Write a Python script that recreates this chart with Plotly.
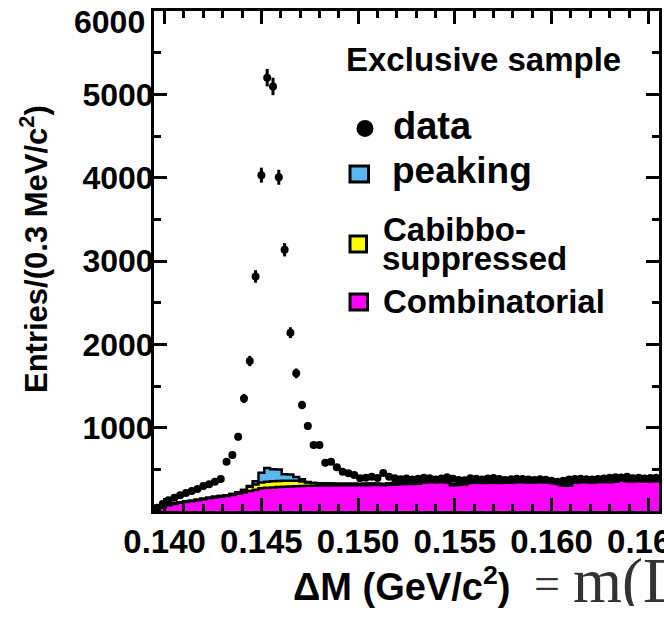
import numpy as np
import plotly.graph_objects as go

# ---- binning: 0.3 MeV/c^2 bins in Delta M (GeV/c^2) ----
bin_start = 0.13945
bin_width = 0.0003
n_bins = 87

# ---- measured entries per bin ----
data_counts = [
    40, 85, 130, 160, 190, 215, 240, 264, 300, 320,
    352, 384, 592, 672, 892, 1350, 1800, 2815, 4030, 5200,
    5095, 4005, 3135, 2140, 1652, 1272, 1020, 792, 792, 580,
    592, 524, 472, 452, 432, 392, 400, 412, 395, 455,
    412, 392, 380, 390, 378, 386, 398, 392, 378, 390,
    405, 388, 372, 370, 392, 386, 378, 390, 396, 384,
    372, 380, 388, 384, 378, 372, 380, 375, 362, 352,
    362, 378, 384, 388, 380, 378, 384, 390, 398, 405,
    402, 410, 394, 398, 390, 396, 398,
]
data_errors = [
    10, 14, 17, 19, 20, 22, 23, 24, 25, 26,
    27, 28, 35, 38, 45, 55, 62, 75, 90, 105,
    105, 90, 80, 65, 58, 50, 45, 40, 40, 35,
    35, 33, 31, 30, 30, 28, 28, 28, 28, 28,
    28, 28, 28, 28, 28, 28, 28, 28, 28, 28,
    28, 28, 28, 28, 28, 28, 28, 28, 28, 28,
    28, 28, 28, 28, 28, 28, 28, 28, 28, 28,
    28, 28, 28, 28, 28, 28, 28, 28, 28, 28,
    28, 28, 28, 28, 28, 28, 28,
]

# ---- background components (stacked) ----
combinatorial = [
    15, 45, 70, 85, 98, 108, 118, 128, 140, 152,
    163, 172, 180, 192, 206, 222, 240, 256, 272, 278,
    283, 288, 292, 295, 298, 300, 302, 304, 305, 306,
    307, 307, 308, 308, 309, 308, 310, 311, 312, 310,
    312, 315, 322, 325, 324, 326, 342, 345, 344, 346,
    342, 305, 312, 318, 336, 338, 335, 337, 339, 336,
    338, 340, 344, 345, 343, 346, 344, 342, 345, 340,
    305, 303, 340, 344, 346, 343, 345, 347, 344, 350,
    368, 356, 354, 357, 355, 353, 356,
]
cabibbo_suppressed = [
    3, 4, 5, 5, 6, 6, 6, 7, 7, 8,
    8, 9, 10, 12, 18, 30, 50, 62, 70, 74,
    74, 72, 70, 68, 64, 55, 40, 32, 28, 25,
    22, 20, 18, 18, 17, 16, 18, 20, 16, 15,
    18, 20, 16, 15, 14, 16, 15, 14, 16, 18,
    15, 14, 16, 15, 14, 16, 15, 14, 15, 16,
    14, 15, 16, 14, 15, 16, 15, 14, 15, 16,
    14, 15, 16, 15, 14, 15, 16, 15, 14, 15,
    16, 15, 14, 15, 16, 15, 14,
]
peaking = [
    0, 0, 0, 0, 0, 0, 0, 0, 0, 0,
    0, 0, 0, 0, 0, 0, 10, 40, 116, 164,
    145, 137, 79, 76, 45, 25, 5, 0, 0, 0,
    0, 0, 0, 0, 0, 0, 0, 0, 0, 0,
    0, 0, 0, 0, 0, 0, 0, 0, 0, 0,
    0, 0, 0, 0, 0, 0, 0, 0, 0, 0,
    0, 0, 0, 0, 0, 0, 0, 0, 0, 0,
    0, 0, 0, 0, 0, 0, 0, 0, 0, 0,
    0, 0, 0, 0, 0, 0, 0,
]

x_ticks = [0.140, 0.145, 0.150, 0.155, 0.160, 0.165]
x_tick_text = ["0.140", "0.145", "0.150", "0.155", "0.160", "0.165"]
y_ticks = [1000, 2000, 3000, 4000, 5000, 6000]
y_tick_text = ["1000", "2000", "3000", "4000", "5000", "6000"]

edges = bin_start + bin_width * np.arange(n_bins + 1)
centers = edges[:-1] + bin_width / 2

layer1 = np.array(combinatorial, dtype=float)
layer2 = layer1 + np.array(cabibbo_suppressed, dtype=float)
layer3 = layer2 + np.array(peaking, dtype=float)


def step_y(vals):
    v = list(vals)
    return v + [v[-1]]


SANS = "Liberation Sans, Arial, Helvetica, sans-serif"
SERIF = "Liberation Serif, Times New Roman, serif"
MAGENTA = "#ff00ff"
YELLOW = "#ffff00"
BLUE = "#58b7ee"

fig = go.Figure()
fig.add_trace(go.Scatter(
    x=edges, y=step_y(layer1), mode="lines", line_shape="hv",
    line=dict(color="black", width=2.5), fill="tozeroy", fillcolor=MAGENTA,
    name="Combinatorial", hoverinfo="skip"))
fig.add_trace(go.Scatter(
    x=edges, y=step_y(layer2), mode="lines", line_shape="hv",
    line=dict(color="black", width=2.5), fill="tonexty", fillcolor=YELLOW,
    name="Cabibbo-suppressed", hoverinfo="skip"))
fig.add_trace(go.Scatter(
    x=edges, y=step_y(layer3), mode="lines", line_shape="hv",
    line=dict(color="black", width=2.5), fill="tonexty", fillcolor=BLUE,
    name="peaking", hoverinfo="skip"))
fig.add_trace(go.Scatter(
    x=centers, y=data_counts, mode="markers", name="data",
    marker=dict(size=8, color="black"),
    error_y=dict(type="data", array=data_errors, thickness=3, width=0,
                 color="black")))

# plot-area geometry (pixels)
L, T, W, H = 154, 11, 505, 500


def px(xp):
    return (xp - L) / W


def py(yp):
    return (T + H - yp) / H


shapes = [
    dict(type="circle", xref="paper", yref="paper",
         x0=px(356.5), x1=px(373.5), y0=py(137), y1=py(120),
         fillcolor="black", line=dict(color="black", width=0)),
    dict(type="rect", xref="paper", yref="paper",
         x0=px(350), x1=px(368.5), y0=py(182), y1=py(166),
         fillcolor=BLUE, line=dict(color="black", width=3)),
    dict(type="rect", xref="paper", yref="paper",
         x0=px(350), x1=px(366.5), y0=py(252), y1=py(236),
         fillcolor=YELLOW, line=dict(color="black", width=3)),
    dict(type="rect", xref="paper", yref="paper",
         x0=px(350), x1=px(367.5), y0=py(310), y1=py(294),
         fillcolor=MAGENTA, line=dict(color="black", width=3)),
]


def label(text, xp, yp, size, **kw):
    font = dict(family=kw.pop("family", SANS), size=size,
                color=kw.pop("color", "black"), weight=kw.pop("weight", "bold"))
    return dict(text=text, xref="paper", yref="paper", x=px(xp), y=py(yp),
                xanchor=kw.pop("xanchor", "left"), yanchor="middle",
                showarrow=False, font=font, **kw)


annotations = [
    # top y-axis label sits just inside the frame
    label(y_tick_text[-1], 147, 22, 32, xanchor="right"),
    label("Exclusive sample", 344, 60, 33),
    label("data", 391, 126, 38),
    label("peaking", 390, 171, 37),
    label("Cabibbo-", 381, 229, 33),
    label("suppressed", 380, 258, 33),
    label("Combinatorial", 381, 301, 33),
    label("Entries/(0.3 MeV/c<sup>2</sup>)", 34, 249, 31, textangle=-90,
          xanchor="center"),
    label("ΔM (GeV/c<sup>2</sup>)", 291, 584, 38),
    label("=", 532, 583, 46, family=SERIF, color="#333333", weight="normal"),
    label("m(D*) − m(D)", 571, 581, 63, family=SERIF, color="#333333",
          weight="normal", height=50),
]

fig.update_layout(
    width=664, height=619,
    margin=dict(l=L, r=664 - L - W, t=T, b=619 - T - H, pad=0,
                autoexpand=False),
    paper_bgcolor="white", plot_bgcolor="white",
    showlegend=False,
    font=dict(family=SANS, color="black"),
    shapes=shapes, annotations=annotations,
    xaxis=dict(
        range=[edges[0], edges[-1]], automargin=False,
        tickmode="array", tickvals=x_ticks, ticktext=x_tick_text,
        ticks="inside", ticklen=13, tickwidth=3, tickcolor="black",
        showline=True, linewidth=3, linecolor="black", mirror="ticks",
        showgrid=False, zeroline=False,
        tickfont=dict(family=SANS, size=33, weight="bold", color="black"),
        ticklabelstandoff=-1, ticklabeloverflow="allow",
        minor=dict(tickmode="linear", tick0=0.140, dtick=0.001,
                   ticks="inside", ticklen=7, tickwidth=2.5,
                   tickcolor="black", showgrid=False),
    ),
    yaxis=dict(
        range=[0, 6000], automargin=False,
        tickmode="array", tickvals=y_ticks[:-1], ticktext=y_tick_text[:-1],
        ticks="inside", ticklen=13, tickwidth=3, tickcolor="black",
        showline=True, linewidth=3, linecolor="black", mirror="ticks",
        showgrid=False, zeroline=False,
        tickfont=dict(family=SANS, size=32, weight="bold", color="black"),
        ticklabelstandoff=-9,
        minor=dict(tickmode="linear", tick0=0, dtick=500,
                   ticks="inside", ticklen=7, tickwidth=2.5,
                   tickcolor="black", showgrid=False),
    ),
)

fig.write_html("out.html")
